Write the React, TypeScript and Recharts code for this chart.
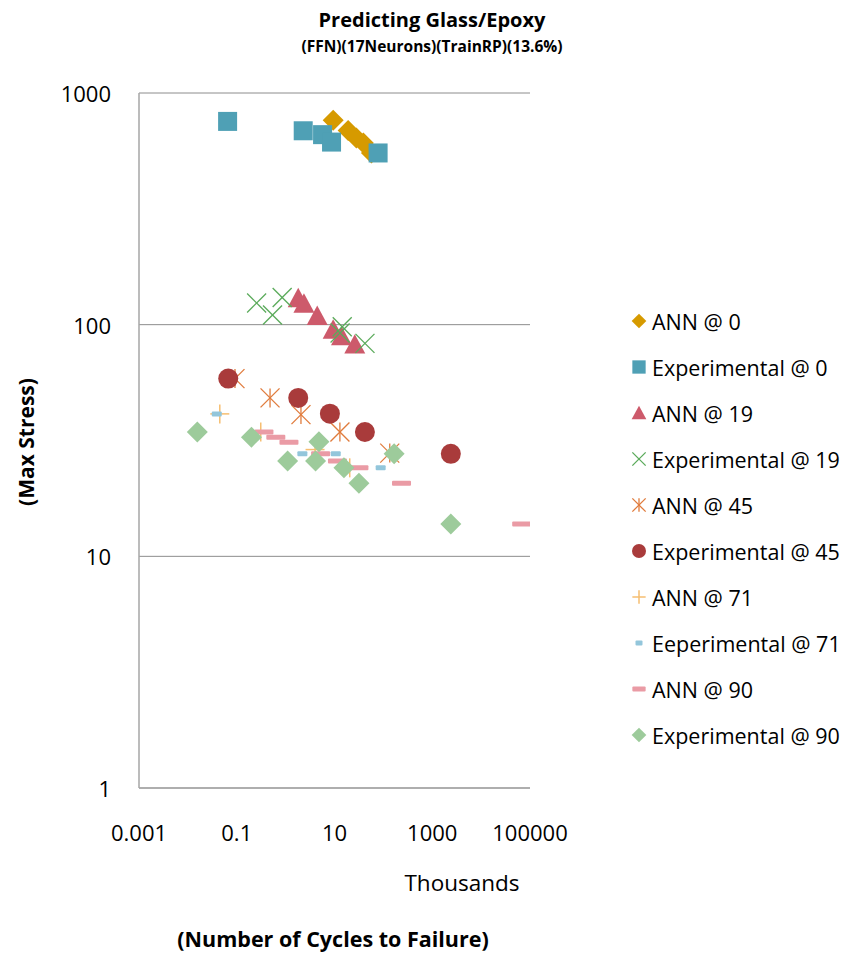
import React from 'react';
import { ScatterChart, Scatter, XAxis, YAxis, CartesianGrid, Legend } from 'recharts';

// ---- data (x = cycles to failure, thousands; y = max stress) ----
const ann0X = [9.4, 19, 28, 39, 57];
const ann0Y = [762, 689, 640, 608, 551];
const exp0X = [0.065, 2.29, 5.7, 8.7, 78];
const exp0Y = [754, 687, 661, 614, 551];
const ann19X = [1.81, 2.37, 4.43, 9.4, 13.9, 26];
const ann19Y = [130, 123, 109, 95, 89, 82];
const exp19X = [0.255, 0.85, 0.54, 14.4, 13, 42];
const exp19Y = [124, 131, 110, 98, 92, 83];
const ann45X = [0.092, 0.48, 2.06, 12.9, 135];
const ann45Y = [58.5, 48.3, 40.9, 34.4, 27.9];
const exp45X = [0.067, 1.81, 8.05, 41.9, 2400];
const exp45Y = [58.5, 48.3, 41.3, 34.4, 27.7];
const ann71X = [0.045, 0.31, 4.0, 20.5];
const ann71Y = [41.2, 34.4, 28.9, 24.1];
const exp71X = [0.039, 2.2, 10.6, 88];
const exp71Y = [41.2, 27.7, 27.7, 24.1];
const ann90X = [0.36, 0.63, 1.17, 5.2, 11.5, 31.6, 235, 67600];
const ann90Y = [34.4, 32.7, 31.1, 27.7, 25.8, 24.1, 20.7, 13.8];
const exp90X = [0.0156, 0.2, 1.1, 4.8, 4.1, 15.6, 31.6, 166, 2400];
const exp90Y = [34.4, 32.7, 25.8, 31.2, 25.8, 24.1, 20.7, 27.7, 13.8];

const xTicks = [0.001, 0.1, 10, 1000, 100000];
const yTicks = [1, 10, 100, 1000];

const seriesNames = [
  'ANN @ 0', 'Experimental @ 0', 'ANN @ 19', 'Experimental @ 19', 'ANN @ 45',
  'Experimental @ 45', 'ANN @ 71', 'Eeperimental @ 71', 'ANN @ 90', 'Experimental @ 90',
];
const seriesX = [ann0X, exp0X, ann19X, exp19X, ann45X, exp45X, ann71X, exp71X, ann90X, exp90X];
const seriesY = [ann0Y, exp0Y, ann19Y, exp19Y, ann45Y, exp45Y, ann71Y, exp71Y, ann90Y, exp90Y];
const seriesShapes = ['diamond', 'square', 'triangle', 'x', 'star', 'circle', 'plus', 'dashS', 'dashL', 'diamond'];
const seriesColors = [
  '#D69A00', '#4FA0B5', '#CD5A6B', '#5AAA5A', '#E07B3C',
  '#A93B3B', '#F6BE70', '#93C6DB', '#EA9BA5', '#9DCB9B',
];

const series = seriesNames.map((name, i) => ({
  name,
  shape: seriesShapes[i],
  color: seriesColors[i],
  data: seriesX[i].map((x, j) => ({ x, y: seriesY[i][j] })),
}));

const FONT = '"Open Sans", sans-serif';

function Marker({ cx, cy, type, color, k = 1 }: any) {
  if (cx == null || cy == null) return null;
  switch (type) {
    case 'diamond': {
      const r = 10.5 * k;
      return <polygon points={`${cx},${cy - r} ${cx + r},${cy} ${cx},${cy + r} ${cx - r},${cy}`} fill={color} />;
    }
    case 'square': {
      const h = 9.5 * k;
      return <rect x={cx - h} y={cy - h} width={2 * h} height={2 * h} fill={color} />;
    }
    case 'triangle': {
      const r = 10.5 * k;
      return <polygon points={`${cx},${cy - r} ${cx + r},${cy + r * 0.85} ${cx - r},${cy + r * 0.85}`} fill={color} />;
    }
    case 'x': {
      const r = 9.5 * k;
      return (
        <g stroke={color} strokeWidth={1.3}>
          <line x1={cx - r} y1={cy - r} x2={cx + r} y2={cy + r} />
          <line x1={cx - r} y1={cy + r} x2={cx + r} y2={cy - r} />
        </g>
      );
    }
    case 'star': {
      const r = 9.5 * k;
      return (
        <g stroke={color} strokeWidth={1.3}>
          <line x1={cx - r} y1={cy - r} x2={cx + r} y2={cy + r} />
          <line x1={cx - r} y1={cy + r} x2={cx + r} y2={cy - r} />
          <line x1={cx} y1={cy - r} x2={cx} y2={cy + r} />
        </g>
      );
    }
    case 'circle':
      return <circle cx={cx} cy={cy} r={10 * k} fill={color} />;
    case 'plus': {
      const r = 9.5 * k;
      return (
        <g stroke={color} strokeWidth={1.5}>
          <line x1={cx - r} y1={cy} x2={cx + r} y2={cy} />
          <line x1={cx} y1={cy - r} x2={cx} y2={cy + r} />
        </g>
      );
    }
    case 'dashS': {
      const w = 10 * k;
      return <rect x={cx - w / 2} y={cy - 2.5} width={w} height={5} rx={1} fill={color} />;
    }
    case 'dashL': {
      const w = 19 * k;
      return <rect x={cx - w / 2} y={cy - 2.5} width={w} height={5} rx={1} fill={color} />;
    }
    default:
      return null;
  }
}

const XTick = ({ x, y, payload }: any) => (
  <text x={x} y={y + 42} textAnchor="middle" dominantBaseline="central" fontFamily={FONT} fontSize={22} fill="#000">
    {String(payload.value)}
  </text>
);
const YTick = ({ x, y, payload }: any) => (
  <text x={x - 26} y={y} textAnchor="end" dominantBaseline="central" fontFamily={FONT} fontSize={22} fill="#000">
    {String(payload.value)}
  </text>
);

const LegendContent = () => (
  <svg width={224} height={470}>
    {series.map((s, i) => (
      <g key={s.name}>
        <Marker cx={19} cy={16 + 46 * i} type={s.shape} color={s.color} k={0.7} />
        <text x={32} y={16 + 46 * i} dominantBaseline="central" fontFamily={FONT} fontSize={21.5} fill="#000">
          {s.name}
        </text>
      </g>
    ))}
  </svg>
);

export default function App() {
  return (
    <div style={{ position: 'absolute', left: 0, top: 0, width: 844, height: 954, background: '#fff' }}>
      <ScatterChart width={844} height={954} margin={{ top: 93, right: 314, bottom: 136, left: 99 }}>
        <CartesianGrid horizontal vertical={false} stroke="#8C8C8C" strokeWidth={1} />
        <XAxis
          type="number"
          dataKey="x"
          scale="log"
          domain={[0.001, 100000]}
          ticks={xTicks}
          allowDataOverflow
          height={30}
          tickLine={false}
          tickSize={0}
          axisLine={{ stroke: '#A6A6A6', strokeWidth: 1.5 }}
          tick={<XTick />}
          interval={0}
        />
        <YAxis
          type="number"
          dataKey="y"
          scale="log"
          domain={[1, 1000]}
          ticks={yTicks}
          allowDataOverflow
          width={40}
          tickLine={false}
          tickSize={0}
          axisLine={{ stroke: '#A6A6A6', strokeWidth: 1.5 }}
          tick={<YTick />}
          interval={0}
        />
        <Legend
          layout="vertical"
          align="center"
          verticalAlign="middle"
          content={<LegendContent />}
          wrapperStyle={{ left: 620, top: 305, width: 224, height: 470 }}
        />
        {series.map((s) => (
          <Scatter
            key={s.name}
            name={s.name}
            data={s.data}
            fill={s.color}
            isAnimationActive={false}
            shape={(p: any) => <Marker cx={p.cx} cy={p.cy} type={s.shape} color={s.color} />}
          />
        ))}
      </ScatterChart>
      <svg
        width={844}
        height={954}
        style={{ position: 'absolute', left: 0, top: 0, pointerEvents: 'none' }}
      >
        <text x={432} y={27} textAnchor="middle" fontFamily={FONT} fontWeight={700} fontSize={20} fill="#000">
          Predicting Glass/Epoxy
        </text>
        <text x={432} y={52} textAnchor="middle" fontFamily={FONT} fontWeight={700} fontSize={15.5} fill="#000">
          (FFN)(17Neurons)(TrainRP)(13.6%)
        </text>
        <text
          x={26}
          y={442}
          textAnchor="middle"
          dominantBaseline="central"
          transform="rotate(-90 26 442)"
          fontFamily={FONT}
          fontWeight={700}
          fontSize={21}
          fill="#000"
        >
          (Max Stress)
        </text>
        <text x={462} y={891} textAnchor="middle" fontFamily={FONT} fontSize={22.5} fill="#000">
          Thousands
        </text>
        <text x={333} y={947} textAnchor="middle" fontFamily={FONT} fontWeight={700} fontSize={21.5} fill="#000">
          (Number of Cycles to Failure)
        </text>
      </svg>
    </div>
  );
}
